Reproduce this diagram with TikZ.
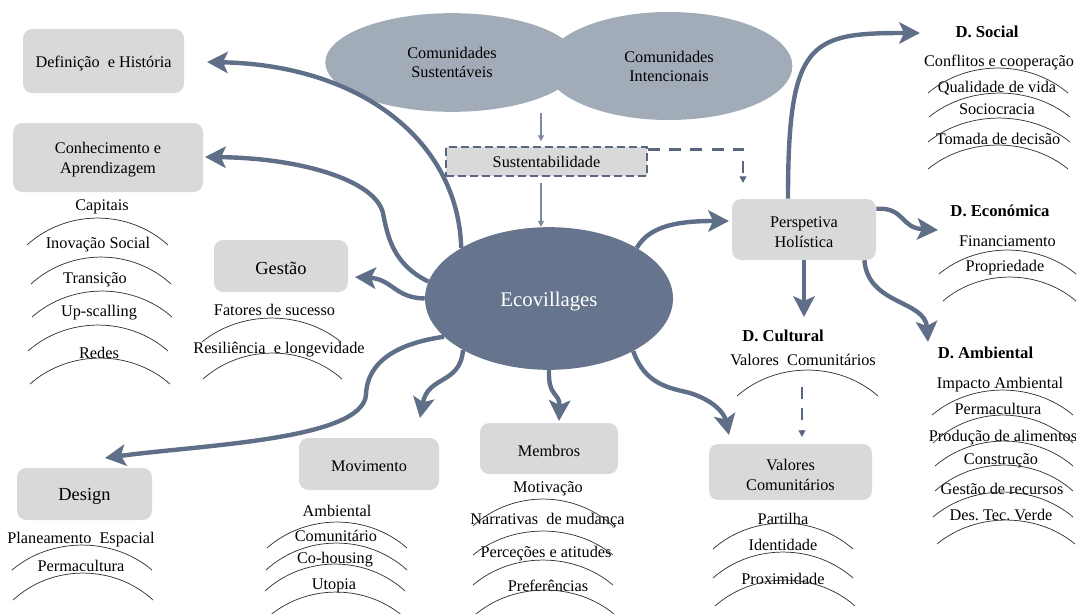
\documentclass[tikz,border=0pt]{standalone}
\usepackage{fontspec}
\setmainfont{Liberation Serif}
\usetikzlibrary{arrows.meta,shapes.geometric}
\frenchspacing

\definecolor{arrowc}{RGB}{96,111,136}
\definecolor{ecoc}{RGB}{102,117,141}
\definecolor{topc}{RGB}{162,172,184}
\definecolor{boxc}{RGB}{217,217,217}
\definecolor{thinc}{RGB}{125,138,158}
\definecolor{dashc}{RGB}{88,102,128}

\newcommand\humparc[4]{%
 \pgfmathsetmacro\hxa{#1+0.28*#3}%
 \pgfmathsetmacro\hxb{#1+0.72*#3}%
 \pgfmathsetmacro\hxc{#1+#3}%
 \pgfmathsetmacro\hyy{#2-1.33*#4}%
 \draw[arcline] (#1,#2) .. controls (\hxa,\hyy) and (\hxb,\hyy) .. (\hxc,#2);}
\newcommand\dn[1]{\raisebox{-1.9pt}[\height][\depth]{#1}}

\begin{document}
\frenchspacing
\begin{tikzpicture}[x=0.75pt,y=-0.75pt,
 txt/.style={font=\fontsize{12.2}{14.5}\selectfont, inner sep=0pt, align=center, yshift=-1.6pt},
 ttl/.style={font=\fontsize{12.5}{15}\selectfont\bfseries, inner sep=0pt, yshift=-0.7pt},
 gbox/.style={draw=none, fill=boxc, rounded corners=7pt, inner sep=0pt, align=center, font=\fontsize{12.2}{15}\selectfont},
 bigarrow/.style={draw=arrowc, line width=3.3pt, -{Stealth[length=15.5pt,width=16pt,inset=3.5pt]}},
 thinarrow/.style={draw=thinc, line width=0.8pt, -{Triangle[length=4.5pt,width=4.5pt]}},
 dasharrow/.style={draw=dashc, line width=2pt, dash pattern=on 9pt off 7pt, -{Triangle[length=5pt,width=5pt]}},
 arcline/.style={draw=black!80, line width=0.55pt},
]
\useasboundingbox (0,0) rectangle (1076,614);

% top ellipses
\node[ellipse, fill=topc, minimum width=190pt, minimum height=74pt, inner sep=0pt, align=center, font=\fontsize{12.2}{14.3}\selectfont] (sus) at (452,62.5) {Comunidades\\Sustentáveis};
\node[ellipse, fill=topc, minimum width=185pt, minimum height=81pt, inner sep=0pt, align=center, font=\fontsize{12.2}{14.3}\selectfont] (int) at (669,66) {Comunidades\\Intencionais};

% center
\node[ellipse, fill=ecoc, minimum width=186pt, minimum height=107pt, inner sep=0pt, text=white, font=\fontsize{15.6}{18}\selectfont] (eco) at (549,298.5) {\dn{Ecovillages}};
\node[draw=dashc, fill=boxc, line width=1.1pt, dash pattern=on 6pt off 3pt, minimum width=150.75pt, minimum height=21.75pt, inner sep=0pt, font=\fontsize{12.2}{14.5}\selectfont] (sust) at (546.5,161.5) {Sustentabilidade};

% boxes
\node[gbox, minimum width=120.75pt, minimum height=48pt] (defin) at (103.5,61) {\dn{Definição~ e História}};
\node[gbox, minimum width=142.5pt, minimum height=51.75pt] (conh) at (108,157.5) {\dn{Conhecimento e}\\\dn{Aprendizagem}};
\node[gbox, minimum width=100.5pt, minimum height=39pt, font=\fontsize{13.8}{16}\selectfont] (gest) at (281,266) {\dn{Gestão}};
\node[gbox, minimum width=101.25pt, minimum height=39pt, font=\fontsize{13.8}{16}\selectfont] (desg) at (84.5,494) {\dn{Design}};
\node[gbox, minimum width=105pt, minimum height=39pt] (movi) at (369,464) {\dn{Movimento}};
\node[gbox, minimum width=103.5pt, minimum height=38.25pt] (memb) at (549,448.5) {\dn{Membros}};
\node[gbox, minimum width=122.25pt, minimum height=42pt] (valc) at (790.5,472) {\dn{Valores}\\\dn{Comunitários}};
\node[gbox, minimum width=108pt, minimum height=45.75pt] (pers) at (804,229.5) {\dn{Perspetiva}\\\dn{Holística}};

% titles
\node[ttl] (dsoc) at (987,31) {D. Social};
\node[ttl] (deco) at (1000,210) {D. Económica};
\node[ttl] (dcul) at (783,335) {D. Cultural};
\node[ttl] (damb) at (985.5,352) {D. Ambiental};

% Conhecimento list
\node[txt] (c1) at (102,205) {Capitais};
\node[txt] (c2) at (98,242) {Inovação Social};
\node[txt] (c3) at (95,278) {Transição};
\node[txt] (c4) at (99,310) {Up-scalling};
\node[txt] (c5) at (99,351) {Redes};
\humparc{27}{245}{141}{27}
\humparc{31}{284}{140}{27}
\humparc{32}{317}{140}{26}
\humparc{28}{351}{140}{26}
\humparc{30}{384}{140}{26}

% Gestao list
\node[txt] (g1) at (274.5,308) {Fatores de sucesso};
\node[txt] (g2) at (279,347) {Resiliência~ e longevidade};
\humparc{202}{342}{139}{24}
\humparc{203}{379}{139}{26}

% Design list
\node[txt] (s1) at (81,537) {Planeamento~ Espacial};
\node[txt] (s2) at (81,564) {Permacultura};
\humparc{12}{570}{140}{25}
\humparc{13}{600}{140}{27}

% Movimento list
\node[txt] (m1) at (337,509) {Ambiental};
\node[txt] (m2) at (336,534) {Comunitário};
\node[txt] (m3) at (335,557) {Co-housing};
\node[txt] (m4) at (334,584) {Utopia};
\humparc{267}{548}{140}{26}
\humparc{266}{570}{141}{27}
\humparc{265}{591}{140}{27}
\humparc{267}{618}{138}{26}

% Membros list
\node[txt] (b1) at (548,487) {Motivação};
\node[txt] (b2) at (547.5,518) {Narrativas~ de mudança};
\node[txt] (b3) at (546,551) {Perceções e atitudes};
\node[txt] (b4) at (548,584) {Preferências};
\humparc{473}{526}{140}{27}
\humparc{473}{555}{140}{24}
\humparc{473}{585}{140}{25}
\humparc{476}{614}{138}{24}

% Valores list
\node[txt] (v1) at (783,517) {Partilha};
\node[txt] (v2) at (783,543) {Identidade};
\node[txt] (v3) at (783,577) {Proximidade};
\humparc{713}{549}{140}{26}
\humparc{713}{578}{140}{26}
\humparc{715}{606}{140}{26}

% D. Cultural
\node[txt] (k1) at (803,358) {Valores~ Comunitários};
\humparc{737}{396}{141}{26}

% D. Ambiental
\node[txt] (a1) at (1000,382) {Impacto Ambiental};
\node[txt] (a2) at (998,407) {Permacultura};
\node[txt] (a3) at (1003,435) {Produção de alimentos};
\node[txt] (a4) at (1001,459) {Construção};
\node[txt] (a5) at (1002,487) {Gestão de recursos};
\node[txt] (a6) at (1001,513) {Des. Tec. Verde};
\humparc{932}{415}{141}{25}
\humparc{933}{443}{140}{28}
\humparc{935}{466}{138}{25}
\humparc{935}{491}{138}{26}
\humparc{933}{517}{140}{25}
\humparc{937}{544}{138}{24}

% D. Social
\node[txt] (o1) at (999,60) {Conflitos e cooperação};
\node[txt] (o2) at (997,86) {Qualidade de vida};
\node[txt] (o3) at (997,107) {Sociocracia};
\node[txt] (o4) at (998,137) {Tomada de decisão};
\humparc{928}{93}{140}{25}
\humparc{929}{117}{141}{24}
\humparc{928}{142}{142}{24}
\humparc{928}{169}{140}{24}

% D. Economica
\node[txt] (e1) at (1007.5,239) {Financiamento};
\node[txt] (e2) at (1005,265) {Propriedade};
\humparc{939}{274}{137}{24}
\humparc{943}{301}{133}{24}

% tip coordinates
\coordinate (tDef) at (207,62);
\coordinate (tCon) at (205,157);
\coordinate (tGes) at (355,277);
\coordinate (tDes) at (105,458);
\coordinate (tMov) at (420,418);
\coordinate (tMem) at (559,421);
\coordinate (tVal) at (729,435);
\coordinate (tPer) at (729,221);
\coordinate (tSoc) at (920,33);
\coordinate (tEco) at (938,230);
\coordinate (tCul) at (804,317);
\coordinate (tAmb) at (928,342);
\coordinate (tA) at (541,113);
\coordinate (dB) at (743,183);
\coordinate (cA) at (802,387);

% big arrows
\draw[bigarrow] (eco.150) .. controls (458,140) and (360,65) .. (tDef);
\draw[bigarrow] (eco.172.5) .. controls (395,265) and (388,240) .. (383,213) .. controls (375,180) and (300,158) .. (tCon);
\draw[bigarrow] (eco.180) .. controls (395,298) and (392,279) .. (tGes);
\draw[bigarrow] (eco.200.6) .. controls (400,343) and (367,360) .. (366,395) .. controls (362,440) and (200,445) .. (tDes);
\draw[bigarrow] (eco.211) .. controls (460,385) and (428,375) .. (tMov);
\draw[bigarrow] (eco.270) .. controls (548,398) and (560,392) .. (tMem);
\draw[bigarrow] (eco.328) .. controls (645,385) and (670,388) .. (690,393) .. controls (712,400) and (724,412) .. (tVal);
\draw[bigarrow] (eco.30.7) .. controls (650,225) and (680,221) .. (tPer);
\draw[bigarrow] (pers.north -| 788,0) .. controls (788,40) and (810,33) .. (tSoc);
\draw[bigarrow] (pers.16) .. controls (905,207) and (900,228) .. (tEco);
\draw[bigarrow] (pers.south) -- (tCul);
\draw[bigarrow] (pers.333.4) .. controls (868,305) and (925,300) .. (tAmb);

% thin and dashed connectors
\draw[thinarrow, shorten >=3.75pt] (tA) -- (tA |- sust.north);
\draw[thinarrow, shorten <=5pt] (tA |- sust.south) -- (tA |- eco.north);
\draw[dasharrow] ([yshift=-2.3pt]sust.north east) -| (dB);
\draw[dasharrow, shorten >=5pt] (cA) -- (cA |- valc.north);
\end{tikzpicture}
\end{document}
